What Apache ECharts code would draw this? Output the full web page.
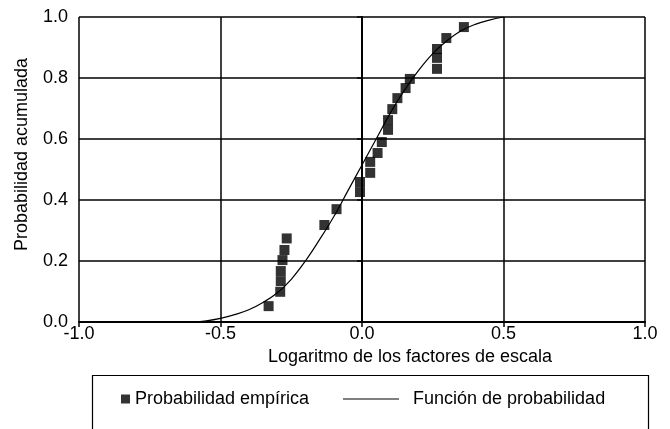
<!DOCTYPE html>
<html>
<head>
<meta charset="utf-8">
<script src="https://cdn.jsdelivr.net/npm/echarts@6/dist/echarts.min.js"></script>
<style>
  html, body { margin: 0; padding: 0; background: #fff; }
  #chart { width: 670px; height: 429px; }
</style>
</head>
<body>
<div id="chart"></div>
<script>
// Empirical cumulative probabilities of log scale factors
const empX = [-0.330, -0.289, -0.287, -0.287, -0.281, -0.274, -0.266, -0.133, -0.090,
              -0.007, -0.007, 0.029, 0.029, 0.055, 0.070, 0.092, 0.092, 0.107, 0.125,
              0.154, 0.169, 0.265, 0.265, 0.265, 0.298, 0.360];
const empP = [0.052, 0.099, 0.134, 0.167, 0.203, 0.236, 0.274, 0.318, 0.370,
              0.426, 0.459, 0.489, 0.525, 0.554, 0.590, 0.630, 0.662, 0.698, 0.734,
              0.767, 0.797, 0.830, 0.866, 0.895, 0.931, 0.967];

// Fitted cumulative probability function, sampled
const fitX = [-0.60, -0.55, -0.50, -0.45, -0.40, -0.35, -0.30, -0.25, -0.20, -0.15, -0.10,
              -0.05, 0.00, 0.05, 0.10, 0.15, 0.20, 0.25, 0.30, 0.35, 0.40, 0.45, 0.50];
const fitP = [0.000, 0.004, 0.012, 0.024, 0.040, 0.064, 0.095, 0.140, 0.200, 0.270, 0.345,
              0.430, 0.515, 0.600, 0.685, 0.760, 0.825, 0.880, 0.922, 0.955, 0.976, 0.990, 1.000];

const xTickLabels = ['-1.0', '-0.5', '0.0', '0.5', '1.0'];
const yTickLabels = ['0.0', '0.2', '0.4', '0.6', '0.8', '1.0'];

const FONT = 'Liberation Sans';
const chart = echarts.init(document.getElementById('chart'), null, { renderer: 'canvas' });

chart.setOption({
  backgroundColor: '#ffffff',
  animation: false,
  textStyle: { fontFamily: FONT, color: '#000' },
  grid: { left: 79, right: 25, top: 17, bottom: 107, containLabel: false },
  xAxis: {
    type: 'value', min: -1, max: 1, interval: 0.5,
    name: 'Logaritmo de los factores de escala',
    nameLocation: 'middle', nameGap: 20,
    nameTextStyle: { fontFamily: FONT, fontSize: 18, color: '#000', padding: [0, 0, 0, 96] },
    axisLine: { onZero: false, lineStyle: { color: '#000', width: 2 } },
    axisTick: { show: true, length: 5, lineStyle: { color: '#000', width: 1.5 } },
    axisLabel: {
      fontFamily: FONT, fontSize: 18, color: '#000', margin: 3,
      formatter: v => xTickLabels[Math.round((v + 1) / 0.5)]
    },
    splitLine: { show: true, lineStyle: { color: '#000', width: 1.5 } }
  },
  yAxis: {
    type: 'value', min: 0, max: 1, interval: 0.2,
    name: 'Probabilidad acumulada',
    nameLocation: 'middle', nameGap: 48,
    nameTextStyle: { fontFamily: FONT, fontSize: 18, color: '#000', padding: [0, 0, 0, 30] },
    axisLine: { show: true, lineStyle: { color: '#000', width: 2 } },
    axisTick: { show: true, length: 5, lineStyle: { color: '#000', width: 1.5 } },
    axisLabel: {
      fontFamily: FONT, fontSize: 18, color: '#000', margin: 11,
      formatter: v => yTickLabels[Math.round(v / 0.2)]
    },
    splitLine: { show: true, lineStyle: { color: '#000', width: 1.5 } }
  },
  legend: [
    {
      data: [{ name: 'Probabilidad empírica', icon: 'rect' }],
      left: 116, top: 385, itemWidth: 9, itemHeight: 9, itemGap: 10,
      textStyle: { fontFamily: FONT, fontSize: 18, color: '#000' }
    },
    {
      data: [{ name: 'Función de probabilidad', icon: 'path://M0,0 L60,0 L60,1 L0,1 Z' }],
      left: 338, top: 385, itemWidth: 56, itemHeight: 1, itemGap: 10, itemGap: 19,
      textStyle: { fontFamily: FONT, fontSize: 18, color: '#000', padding: [0, 0, 0, 9] }
    }
  ],
  graphic: [{
    type: 'rect', left: 90, top: 373, silent: true,
    shape: { width: 556, height: 70 },
    style: { fill: 'none', stroke: '#000', lineWidth: 1.2 }
  }],
  series: [
    {
      name: 'Función de probabilidad', type: 'line', smooth: 0.4,
      data: fitX.map((x, i) => [x, fitP[i]]),
      showSymbol: false, symbol: 'none',
      lineStyle: { color: '#000', width: 1.2 },
      itemStyle: { color: '#000' },
      z: 3
    },
    {
      name: 'Probabilidad empírica', type: 'scatter',
      data: empX.map((x, i) => [x, empP[i]]),
      symbol: 'rect', symbolSize: 10,
      itemStyle: { color: '#000' },
      z: 4
    }
  ]
});
</script>
</body>
</html>
